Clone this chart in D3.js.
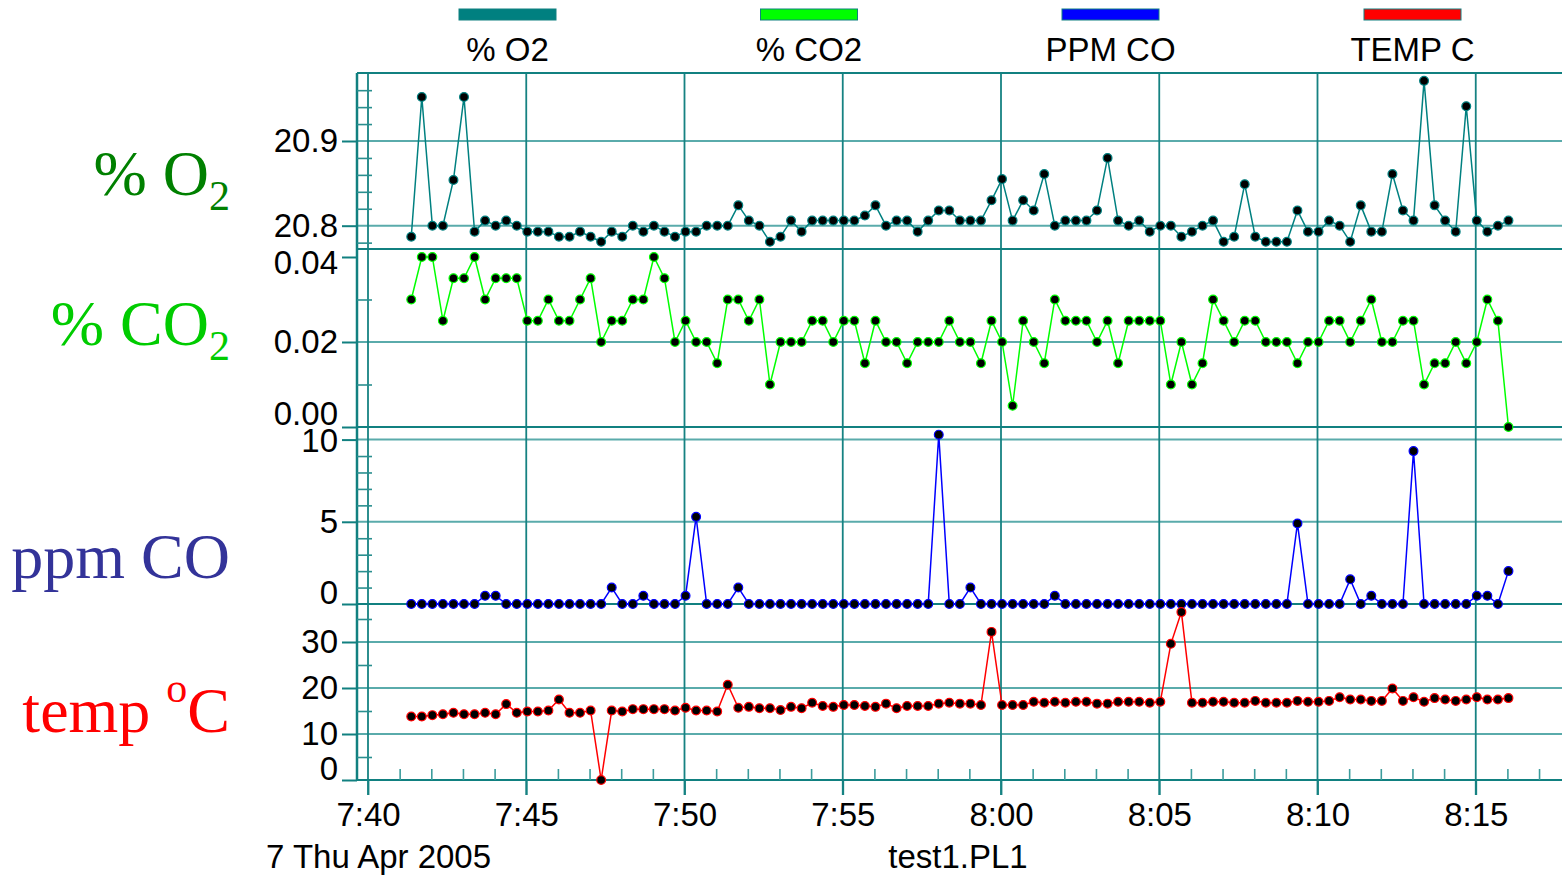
<!DOCTYPE html>
<html><head><meta charset="utf-8">
<script src="https://cdn.jsdelivr.net/npm/d3@7"></script>
<style>
html,body{margin:0;padding:0;background:#fff;overflow:hidden}
svg{display:block}
</style></head><body>
<svg id="c" width="1562" height="875"></svg>
<script>
// ---------- DATA ----------
const times = [
"07:41:22","07:41:42",
"07:42:02","07:42:22","07:42:42","07:43:02","07:43:22","07:43:42",
"07:44:02","07:44:22","07:44:42","07:45:02","07:45:22","07:45:42",
"07:46:02","07:46:22","07:46:42","07:47:02","07:47:22","07:47:42",
"07:48:02","07:48:22","07:48:42","07:49:02","07:49:22","07:49:42",
"07:50:02","07:50:22","07:50:42","07:51:02","07:51:22","07:51:42",
"07:52:02","07:52:22","07:52:42","07:53:02","07:53:22","07:53:42",
"07:54:02","07:54:22","07:54:42","07:55:02","07:55:22","07:55:42",
"07:56:02","07:56:22","07:56:42","07:57:02","07:57:22","07:57:42",
"07:58:02","07:58:22","07:58:42","07:59:02","07:59:22","07:59:42",
"08:00:02","08:00:22","08:00:42","08:01:02","08:01:22","08:01:42",
"08:02:02","08:02:22","08:02:42","08:03:02","08:03:22","08:03:42",
"08:04:02","08:04:22","08:04:42","08:05:02","08:05:22","08:05:42",
"08:06:02","08:06:22","08:06:42","08:07:02","08:07:22","08:07:42",
"08:08:02","08:08:22","08:08:42","08:09:02","08:09:22","08:09:42",
"08:10:02","08:10:22","08:10:42","08:11:02","08:11:22","08:11:42",
"08:12:02","08:12:22","08:12:42","08:13:02","08:13:22","08:13:42",
"08:14:02","08:14:22","08:14:42","08:15:02","08:15:22","08:15:42",
"08:16:02"];

const o2 = [
20.787,20.952,20.800,20.800,20.854,20.952,20.793,20.806,20.800,20.806,
20.800,20.793,20.793,20.793,20.787,20.787,20.793,20.787,20.781,20.793,
20.787,20.800,20.793,20.800,20.793,20.787,20.793,20.793,20.800,20.800,
20.800,20.824,20.806,20.800,20.781,20.787,20.806,20.793,20.806,20.806,
20.806,20.806,20.806,20.812,20.824,20.800,20.806,20.806,20.793,20.806,
20.818,20.818,20.806,20.806,20.806,20.830,20.855,20.806,20.830,20.818,
20.861,20.800,20.806,20.806,20.806,20.818,20.880,20.806,20.800,20.806,
20.793,20.800,20.800,20.787,20.793,20.800,20.806,20.781,20.787,20.849,
20.787,20.781,20.781,20.781,20.818,20.793,20.793,20.806,20.800,20.781,
20.824,20.793,20.793,20.861,20.818,20.806,20.971,20.824,20.806,20.793,
20.941,20.806,20.793,20.800,20.806];

const co2 = [
0.030,0.040,0.040,0.025,0.035,0.035,0.040,0.030,0.035,0.035,
0.035,0.025,0.025,0.030,0.025,0.025,0.030,0.035,0.020,0.025,
0.025,0.030,0.030,0.040,0.035,0.020,0.025,0.020,0.020,0.015,
0.030,0.030,0.025,0.030,0.010,0.020,0.020,0.020,0.025,0.025,
0.020,0.025,0.025,0.015,0.025,0.020,0.020,0.015,0.020,0.020,
0.020,0.025,0.020,0.020,0.015,0.025,0.020,0.005,0.025,0.020,
0.015,0.030,0.025,0.025,0.025,0.020,0.025,0.015,0.025,0.025,
0.025,0.025,0.010,0.020,0.010,0.015,0.030,0.025,0.020,0.025,
0.025,0.020,0.020,0.020,0.015,0.020,0.020,0.025,0.025,0.020,
0.025,0.030,0.020,0.020,0.025,0.025,0.010,0.015,0.015,0.020,
0.015,0.020,0.030,0.025,0.000];

const ppmCO = [
0,0,0,0,0,0,0,0.5,0.5,0,
0,0,0,0,0,0,0,0,0,1,
0,0,0.5,0,0,0,0.5,5.3,0,0,
0,1,0,0,0,0,0,0,0,0,
0,0,0,0,0,0,0,0,0,0,
10.3,0,0,1,0,0,0,0,0,0,
0,0.5,0,0,0,0,0,0,0,0,
0,0,0,0,0,0,0,0,0,0,
0,0,0,0,4.9,0,0,0,0,1.5,
0,0.5,0,0,0,9.3,0,0,0,0,
0,0.5,0.5,0,2];

const tempC = [
13.8,13.8,14.1,14.3,14.6,14.3,14.3,14.6,14.3,16.5,
14.6,14.9,14.9,15.1,17.5,14.6,14.6,15.1,0,15.1,
14.9,15.4,15.4,15.4,15.4,15.1,15.7,15.1,15.1,14.9,
20.7,15.7,15.9,15.6,15.6,15.2,15.9,15.6,16.8,16.1,
15.9,16.3,16.3,16.1,15.9,16.6,15.6,16.1,16.1,16.1,
16.6,16.8,16.6,16.6,16.3,32.2,16.3,16.3,16.3,17.0,
16.8,17.0,16.8,17.0,17.0,16.6,16.6,17.0,17.0,17.0,
16.8,17.0,29.6,36.5,16.8,16.8,17.0,17.0,16.8,16.8,
17.2,16.8,16.8,16.8,17.2,17.0,17.0,17.2,18.0,17.5,
17.5,17.2,17.2,19.9,17.2,18.0,17.0,17.8,17.5,17.2,
17.5,18.0,17.5,17.5,17.8];

const legendLabels = ["% O2","% CO2","PPM CO","TEMP C"];

const o2Ticks = [20.8, 20.9],        o2TickLabels = ["20.8","20.9"];
const o2Minor = [20.78,20.82,20.84,20.86,20.88,20.92,20.94,20.96];
const o2Grid  = [20.8, 20.9];
const co2Ticks = [0, 0.02, 0.04],    co2TickLabels = ["0.00","0.02","0.04"];
const co2Minor = [0.01, 0.03];
const co2Grid  = [0.02];
const coTicks = [0, 5, 10],          coTickLabels = ["0","5","10"];
const coMinor = [1,2,3,4,6,7,8,9];
const coGrid  = [5, 10];
const tempTicks = [0, 10, 20, 30],   tempTickLabels = ["0","10","20","30"];
const tempMinor = [5, 15, 25, 35];
const tempGrid  = [10, 20, 30];

const xStart = "07:40:00", xRef = "08:15:00", xEnd = "08:17:00";
const dateText = "7 Thu Apr 2005", fileText = "test1.PL1";

// ---------- DRAW ----------
const SANS = "'Liberation Sans', Arial, sans-serif";
const SERIF = "'Liberation Serif', 'Times New Roman', serif";
const FS = 33;
const svg = d3.select("#c");
svg.append("rect").attr("width",1562).attr("height",875).attr("fill","#fff");

const parse = d3.timeParse("%Y-%m-%d %H:%M:%S");
const day = "2005-04-07 ";
const dates = times.map(t => parse(day + t));
const t0 = parse(day + xStart), t1 = parse(day + xRef), tEnd = parse(day + xEnd);
const x = d3.scaleTime().domain([t0, t1]).range([368, 1475.75]);

const L = 357, R = 1562;
const panels = [
  {values:o2,   color:"#008080", top:73,  bottom:249, domain:[20.77249, 20.98028], ticks:o2Ticks,   labels:o2TickLabels,   minor:o2Minor,   grid:o2Grid,   padT:14, padB:12},
  {values:co2,  color:"#00ff00", top:249, bottom:427, domain:[0, 0.04188],          ticks:co2Ticks,  labels:co2TickLabels,  minor:co2Minor,  grid:co2Grid,  padT:14, padB:13},
  {values:ppmCO,color:"#0000ff", top:427, bottom:604, domain:[0, 10.766],           ticks:coTicks,   labels:coTickLabels,   minor:coMinor,   grid:coGrid,   padT:14, padB:11},
  {values:tempC,color:"#ff0000", top:604, bottom:780, domain:[0, 38.26],            ticks:tempTicks, labels:tempTickLabels, minor:tempMinor, grid:tempGrid, padT:14, padB:11}
];
panels.forEach(p => p.y = d3.scaleLinear().domain(p.domain).range([p.bottom, p.top]));

const majorTimes = d3.timeMinute.every(5).range(t0, d3.timeMinute.offset(t1, 1));
const minorTimes = d3.timeMinute.range(t0, d3.timeMinute.offset(tEnd, 1)).filter(d => d.getMinutes() % 5 !== 0);

// horizontal grid lines
const gGrid = svg.append("g");
panels.forEach(p => {
  gGrid.selectAll(null).data(p.grid).join("line")
    .attr("x1", L).attr("x2", R)
    .attr("y1", d => p.y(d)).attr("y2", d => p.y(d))
    .attr("stroke", "#5aabab").attr("stroke-width", 2);
});
// vertical grid lines
gGrid.selectAll(null).data(majorTimes).join("line")
  .attr("x1", d => x(d)).attr("x2", d => x(d))
  .attr("y1", 73).attr("y2", 795)
  .attr("stroke", "#168282").attr("stroke-width", 1.8);

// panel borders
const borders = [73, 249, 427, 604, 780];
svg.append("g").selectAll("line").data(borders).join("line")
  .attr("x1", L).attr("x2", R).attr("y1", d => d).attr("y2", d => d)
  .attr("stroke", "#118080").attr("stroke-width", 2.2);
svg.append("line").attr("x1", L).attr("x2", L).attr("y1", 73).attr("y2", 780)
  .attr("stroke", "#118080").attr("stroke-width", 2.5);

// series
panels.forEach(p => {
  const line = d3.line().x((d,i) => x(dates[i])).y(d => p.y(d));
  svg.append("path").datum(p.values).attr("d", line)
    .attr("fill", "none").attr("stroke", p.color).attr("stroke-width", 1.5);
  svg.append("g").selectAll("circle").data(p.values).join("circle")
    .attr("cx", (d,i) => x(dates[i])).attr("cy", d => p.y(d)).attr("r", 4.4)
    .attr("fill", "#000").attr("stroke", p.color).attr("stroke-width", 1.2);
});

// y axes
panels.forEach(p => {
  const ax = d3.axisLeft(p.y).tickValues(p.ticks)
    .tickFormat((d,i) => p.labels[i]).tickSize(15).tickPadding(4);
  const g = svg.append("g").attr("transform", `translate(${L},0)`).call(ax)
    .attr("font-size", FS).attr("font-family", SANS);
  g.select(".domain").remove();
  g.selectAll("line").attr("stroke", "#118080").attr("stroke-width", 2);
  g.selectAll("text").attr("fill", "#000")
    .attr("y", d => Math.max(p.top + p.padT, Math.min(p.bottom - p.padB, p.y(d))) - p.y(d));
  const mn = d3.axisRight(p.y).tickValues(p.minor).tickSize(15).tickFormat("");
  const gm = svg.append("g").attr("transform", `translate(${L},0)`).call(mn);
  gm.select(".domain").remove();
  gm.selectAll("line").attr("stroke", "#2a8f8f").attr("stroke-width", 1.6);
});

// x axis
const xa = d3.axisBottom(x).tickValues(majorTimes).tickFormat(d3.timeFormat("%-H:%M"))
  .tickSize(15).tickPadding(8);
const gx = svg.append("g").attr("transform", "translate(0,780)").call(xa)
  .attr("font-size", FS).attr("font-family", SANS);
gx.select(".domain").remove();
gx.selectAll("line").attr("stroke", "#168282").attr("stroke-width", 1.8);
gx.selectAll("text").attr("fill", "#000");
const xm = d3.axisTop(x).tickValues(minorTimes).tickSize(11).tickFormat("");
const gxm = svg.append("g").attr("transform", "translate(0,780)").call(xm);
gxm.select(".domain").remove();
gxm.selectAll("line").attr("stroke", "#3c9c9c").attr("stroke-width", 1.6);

// legend
const legColors = panels.map(p => p.color);
const legCenters = [507.5, 809, 1110.5, 1412.5];
const lg = svg.append("g");
lg.selectAll("rect").data(legendLabels).join("rect")
  .attr("x", (d,i) => legCenters[i] - 48.5).attr("y", 9).attr("width", 97).attr("height", 11)
  .attr("fill", (d,i) => legColors[i]).attr("stroke", "#118080").attr("stroke-width", 1);
lg.selectAll("text").data(legendLabels).join("text")
  .attr("x", (d,i) => legCenters[i]).attr("y", 61).attr("text-anchor", "middle")
  .attr("font-family", SANS).attr("font-size", FS).attr("fill", "#000").text(d => d);

// left titles
function title(yb, color, parts) {
  const t = svg.append("text").attr("x", 230).attr("y", yb).attr("text-anchor", "end")
    .attr("font-family", SERIF).attr("fill", color);
  parts.forEach(pt => t.append("tspan").attr("font-size", pt[1]).attr("dy", pt[2]).text(pt[0]));
}
title(195, "#008000", [["% O",64,0],["2",42,15]]);
title(345, "#00cc00", [["% CO",64,0],["2",42,15]]);
title(578, "#333399", [["ppm CO",64,0]]);
title(732, "#ff0000", [["temp ",64,0],["o",42,-30],["C",64,30]]);

// footer
svg.append("text").attr("x", 266).attr("y", 868).attr("font-family", SANS).attr("font-size", FS)
  .attr("fill", "#000").text(dateText);
svg.append("text").attr("x", 958).attr("y", 868).attr("text-anchor", "middle").attr("font-family", SANS)
  .attr("font-size", FS).attr("fill", "#000").text(fileText);
</script>
</body></html>
